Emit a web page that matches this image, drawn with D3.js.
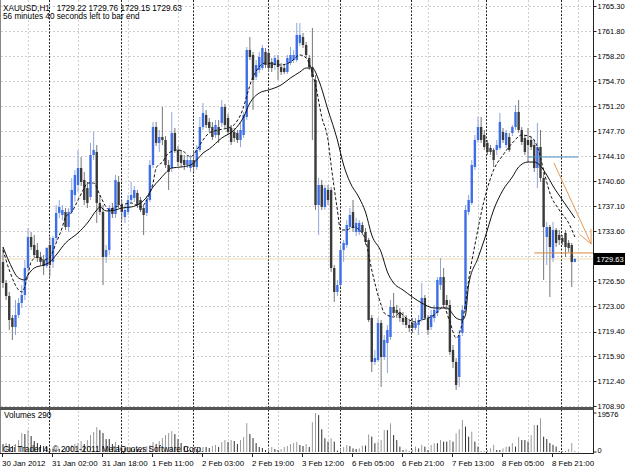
<!DOCTYPE html>
<html><head><meta charset="utf-8">
<script src="https://cdn.jsdelivr.net/npm/d3@7"></script>
<style>body{margin:0;background:#fff;}svg{display:block;font-family:"Liberation Sans",Arial,sans-serif;}</style>
</head><body><svg id="c" width="625" height="469"></svg>
<script>
// ---------- data (XAUUSD H1) ----------
const opens=[1729.21,1726.25,1724.41,1721.31,1720.04,1721.73,1723.43,1724.55,1728.36,1732.73,
1731.60,1730.90,1729.91,1729.49,1728.64,1731.60,1729.21,1732.59,1736.12,1735.83,
1736.26,1734.14,1736.26,1738.65,1740.06,1742.46,1740.77,1739.64,1738.37,1744.29,
1744.72,1737.53,1736.26,1729.91,1730.90,1736.82,1735.98,1740.49,1737.24,1735.55,
1736.26,1737.95,1738.23,1738.94,1737.95,1736.82,1736.12,1737.95,1742.88,1748.24,
1745.99,1746.83,1746.41,1742.88,1742.46,1747.40,1745.00,1744.29,1743.59,1742.88,
1742.46,1743.59,1742.60,1745.00,1748.24,1749.93,1748.95,1748.24,1747.11,1748.24,
1748.81,1751.06,1749.51,1748.10,1747.54,1747.40,1746.41,1747.11,1749.65,1759.10,
1758.39,1755.29,1756.28,1756.56,1758.82,1758.68,1757.41,1756.98,1757.69,1756.70,
1756.56,1756.00,1757.27,1757.69,1757.69,1760.09,1760.93,1759.80,1757.97,1756.70,
1754.87,1737.24,1740.06,1736.96,1739.36,1739.36,1728.36,1724.98,1725.96,1730.90,
1731.60,1734.14,1736.26,1733.44,1733.44,1734.42,1733.44,1732.31,1721.31,1715.11,
1715.39,1720.61,1715.81,1717.79,1718.63,1722.86,1722.44,1722.16,1721.31,1721.31,
1720.32,1720.61,1719.90,1720.32,1721.03,1724.13,1721.31,1720.04,1721.31,1722.02,
1725.96,1727.09,1723.85,1723.14,1716.80,1715.11,1712.99,1719.20,1722.44,1736.26,
1737.53,1742.60,1746.41,1748.24,1747.11,1745.99,1745.28,1745.00,1745.00,1745.28,
1747.54,1745.70,1746.83,1747.40,1748.24,1750.36,1747.82,1746.69,1746.41,1746.41,
1745.70,1742.46,1745.42,1741.05,1732.73,1734.14,1729.77,1733.72,1733.01,1732.59,
1733.30,1731.89,1731.60,1729.22];
const highs=[1731.32,1726.67,1724.98,1721.73,1723.85,1724.13,1725.96,1729.49,1734.00,1733.44,
1733.01,1731.89,1730.62,1730.19,1731.32,1732.73,1732.87,1737.24,1737.95,1737.24,
1736.82,1736.82,1741.05,1742.18,1745.00,1744.01,1741.90,1740.49,1745.99,1747.54,
1745.70,1738.65,1737.24,1731.60,1737.24,1737.53,1741.47,1741.33,1737.95,1737.24,
1738.65,1740.49,1739.92,1739.36,1738.37,1737.24,1738.51,1743.59,1748.95,1748.95,
1747.82,1751.06,1746.97,1743.59,1750.36,1748.10,1745.56,1745.00,1744.29,1744.29,
1744.29,1745.00,1745.70,1749.65,1751.63,1750.64,1749.51,1748.95,1749.23,1749.23,
1752.05,1751.49,1750.08,1748.52,1748.10,1747.82,1748.81,1750.36,1759.52,1760.93,
1758.82,1757.69,1758.82,1759.80,1759.38,1759.10,1757.97,1758.39,1758.39,1757.27,
1757.13,1758.39,1759.52,1759.10,1762.91,1762.91,1761.50,1760.23,1758.39,1762.20,
1755.57,1741.05,1740.77,1740.06,1740.06,1739.78,1728.78,1726.67,1731.60,1732.31,
1735.13,1736.82,1737.95,1735.41,1735.13,1734.85,1734.00,1732.59,1721.73,1716.80,
1721.31,1721.03,1718.91,1720.32,1723.85,1724.84,1723.14,1722.72,1722.16,1721.73,
1721.03,1721.31,1721.31,1721.73,1726.25,1724.55,1721.73,1722.44,1723.14,1727.09,
1729.77,1728.36,1724.55,1723.85,1717.50,1715.67,1719.62,1723.14,1737.24,1738.65,
1743.59,1747.11,1749.65,1749.65,1747.82,1746.41,1745.70,1745.28,1746.41,1750.22,
1748.10,1747.82,1747.40,1748.52,1751.34,1752.05,1748.24,1747.11,1748.10,1746.83,
1746.41,1748.81,1747.82,1741.90,1734.85,1734.42,1734.85,1734.00,1733.72,1733.01,
1733.72,1732.31,1731.89,1729.76];
const lows=[1725.54,1723.85,1719.62,1718.21,1718.91,1721.31,1722.72,1723.85,1727.80,1730.90,
1729.77,1729.21,1728.78,1727.37,1728.36,1727.23,1728.36,1732.03,1735.41,1735.13,
1733.72,1733.44,1735.98,1737.67,1739.08,1739.92,1737.24,1736.82,1737.95,1743.59,
1734.71,1735.83,1725.96,1729.07,1730.19,1735.41,1735.41,1736.82,1735.13,1734.71,
1735.83,1737.53,1737.67,1736.82,1736.26,1733.01,1735.69,1737.67,1742.46,1745.56,
1744.72,1745.70,1742.46,1739.36,1741.90,1744.58,1742.74,1742.60,1742.18,1742.46,
1741.90,1741.90,1742.18,1744.72,1747.82,1748.10,1747.54,1746.41,1746.69,1745.99,
1748.24,1748.10,1747.11,1745.70,1746.13,1745.99,1745.42,1746.69,1749.23,1757.69,
1750.64,1754.87,1755.86,1756.28,1756.56,1756.00,1756.00,1756.28,1754.87,1755.57,
1755.72,1755.72,1756.98,1757.27,1757.41,1759.66,1759.38,1757.97,1756.28,1746.41,
1736.54,1733.01,1736.54,1736.54,1737.24,1727.80,1723.57,1724.41,1725.68,1729.21,
1731.18,1733.86,1733.44,1732.87,1733.01,1733.01,1731.60,1720.75,1713.70,1714.68,
1715.11,1711.58,1715.39,1713.56,1718.21,1721.59,1721.31,1720.75,1720.32,1719.90,
1719.34,1719.20,1719.62,1718.91,1720.75,1721.03,1718.91,1719.62,1720.75,1721.59,
1725.26,1722.72,1722.44,1716.09,1714.26,1711.16,1711.58,1718.77,1722.16,1735.83,
1737.24,1742.18,1745.99,1745.99,1745.00,1744.29,1744.29,1742.60,1744.29,1745.00,
1745.99,1745.28,1744.72,1746.97,1747.82,1747.40,1745.70,1744.29,1743.31,1745.00,
1741.90,1739.64,1740.49,1726.67,1728.78,1724.27,1729.21,1731.32,1731.60,1731.60,
1729.91,1730.62,1725.68,1729.15];
const closes=[1726.25,1724.41,1721.03,1720.04,1721.73,1723.43,1724.55,1728.36,1732.73,1731.32,
1730.19,1729.77,1729.21,1728.64,1731.18,1728.78,1732.59,1736.12,1736.96,1736.54,
1734.14,1736.26,1739.36,1741.47,1742.46,1740.49,1737.95,1737.53,1744.29,1745.00,
1737.53,1736.26,1729.91,1730.90,1736.82,1735.98,1740.77,1737.24,1736.26,1736.54,
1737.95,1738.65,1739.36,1737.24,1736.54,1735.83,1737.95,1742.88,1748.24,1745.99,
1746.83,1746.41,1742.88,1741.90,1747.40,1745.00,1743.31,1743.17,1742.88,1743.59,
1743.59,1742.60,1745.00,1748.24,1750.22,1748.52,1748.10,1746.83,1748.52,1747.11,
1751.06,1748.52,1747.54,1746.13,1746.69,1746.41,1747.82,1749.93,1759.10,1758.11,
1754.87,1756.98,1758.11,1759.38,1756.98,1756.56,1756.56,1757.97,1756.70,1756.00,
1756.00,1757.97,1758.39,1758.39,1761.21,1761.21,1759.80,1758.39,1756.70,1755.29,
1737.24,1740.06,1736.96,1739.64,1737.95,1728.36,1724.98,1725.96,1730.90,1731.89,
1734.42,1735.83,1734.00,1734.71,1734.71,1733.44,1732.03,1721.03,1715.11,1715.67,
1720.61,1715.81,1718.21,1719.62,1722.86,1722.02,1722.02,1721.31,1720.75,1720.32,
1719.90,1719.90,1720.61,1721.03,1724.13,1721.31,1719.62,1721.73,1722.44,1726.67,
1727.09,1723.14,1723.14,1716.52,1715.11,1711.86,1718.91,1722.44,1736.54,1737.95,
1742.88,1746.41,1748.24,1746.41,1745.42,1744.72,1744.72,1743.59,1745.70,1748.95,
1746.41,1747.40,1745.00,1748.24,1750.36,1747.82,1746.13,1744.72,1745.70,1745.42,
1742.46,1745.42,1741.05,1734.14,1734.14,1731.32,1733.72,1731.89,1732.31,1732.03,
1731.32,1731.18,1729.21,1729.63];
const volumes=[4000,4500,4000,3000,4000,6000,9500,9000,11000,8000,
5500,4500,3500,3000,2500,1500,1500,2000,1500,1000,
2000,2500,3500,4000,4500,5500,4000,6000,8500,10000,
12500,11000,9500,6500,6500,4000,5000,3500,2000,2000,
2500,2000,1500,1500,1000,2500,3000,3500,5000,4000,
5500,7000,8500,9500,10500,9000,6500,4500,3000,2500,
1000,1500,1500,2000,2500,2500,2000,3000,3500,2500,
5000,6000,5000,6000,5500,4000,6000,7500,14500,9000,
7000,4500,2500,2000,1000,2000,2500,1500,1000,1500,
2500,3000,4000,4500,5000,3500,3000,4000,2500,15000,
19576,18500,11400,6900,5200,6900,5200,700,1800,2500,
3500,3000,1800,1500,1800,3200,3200,8800,7700,4400,
5200,6000,11000,11000,14400,8500,6000,2700,1000,1300,
300,1300,2700,1800,3600,2700,1000,3600,4400,4400,
6000,5200,5200,6000,5200,9400,11400,16000,12700,7700,
10200,5200,2700,300,300,1000,1800,3600,1000,1000,
1800,2700,2700,4400,2700,7500,6000,6000,5200,8500,
13500,13500,16900,7700,6500,4500,3600,2700,500,300,
300,1500,4500,290];
// moving averages (bar index / price)
const maSlowIdx=[0,2,5,7,8,10,13,15,17,20,24,27,30,31,33,36,38,41,44,46,48,50,52,54,57,60,62,64,66,70,74,77,79,82,85,89,92,95,97,99,101,104,107,109,111,114,116,118,121,123,125,128,131,134,138,142,145,147,148,149,152,154,157,160,163,165,168,170,172,174,176,179,183];
const maSlow=[1731.32,1729.2,1726.95,1726.67,1727.37,1728.36,1728.78,1729.2,1730.19,1731.88,1733.3,1734.7,1736.54,1736.96,1736.4,1736.54,1736.82,1736.96,1737.52,1738.37,1739.78,1740.77,1741.75,1742.46,1742.6,1742.88,1743.59,1744.57,1745.14,1746.69,1747.82,1749.65,1751.62,1753.03,1753.46,1754.16,1755.15,1755.99,1756.56,1756.56,1754.87,1750.64,1746.41,1742.88,1740.48,1738.23,1736.25,1733.0,1730.61,1727.8,1726.24,1725.26,1724.27,1723.42,1722.72,1722.72,1721.31,1721.03,1721.73,1725.96,1729.77,1732.31,1736.54,1739.36,1741.2,1742.6,1743.3,1743.3,1742.74,1741.47,1739.92,1737.95,1735.41];
const maFastIdx=[0,2,5,6,8,9,11,13,15,17,19,20,22,24,26,27,29,31,33,34,36,38,41,44,46,48,49,51,53,56,58,60,62,64,66,69,73,76,80,84,89,92,95,97,99,100,102,104,105,107,108,110,112,114,116,118,121,122,125,127,129,132,134,138,141,143,145,147,148,149,151,154,157,160,163,166,169,171,173,175,178,181,183];
const maFast=[1730.9,1728.08,1725.26,1724.97,1727.37,1729.2,1729.91,1729.49,1729.91,1731.88,1734.14,1735.55,1736.25,1737.95,1739.64,1740.34,1740.34,1738.65,1736.96,1736.54,1736.96,1737.24,1737.52,1736.96,1737.95,1740.34,1742.46,1743.3,1744.57,1745.0,1744.71,1744.0,1745.0,1746.41,1747.4,1747.82,1748.24,1749.93,1755.29,1757.26,1756.98,1757.4,1758.39,1757.97,1755.85,1754.16,1749.65,1746.41,1742.88,1736.54,1733.72,1733.72,1734.14,1733.72,1732.31,1728.08,1723.14,1722.01,1721.45,1722.01,1721.31,1720.74,1721.03,1721.73,1722.86,1720.74,1718.49,1720.74,1723.42,1726.67,1731.6,1737.95,1742.18,1744.29,1745.98,1747.11,1746.83,1745.42,1742.18,1738.93,1736.54,1734.7,1732.73];
// axis ticks and labels
const priceTicks=[1765.30,1761.80,1758.20,1754.70,1751.20,1747.70,1744.10,1740.60,1737.10,1733.60,1730.10,1726.50,1723.00,1719.40,1715.90,1712.40,1708.90];
const timeIdx=[0,16,32,48,64,80,96,112,128,144,160,176];
const timeLabels=["30 Jan 2012","31 Jan 02:00","31 Jan 18:00","1 Feb 11:00","2 Feb 03:00","2 Feb 19:00","3 Feb 12:00","6 Feb 05:00","6 Feb 21:00","7 Feb 13:00","8 Feb 05:00","8 Feb 21:00"];
const gridIdx=[8,24,40,56,72,88,104,120,136,152,168,184];
const daySepIdx=[15,38,61,85,108,131,155,179];
const volTicks=[19576,0];
const lastPrice=1729.63;
// drawn objects
const blueLineIdx=[168,184], blueLinePrice=[1744.01,1744.01];
const orangeLineIdx=[170,188.8], orangeLinePrice=[1730.48,1730.48];
const arrowIdx=[176.3,188.2], arrowPrice=[1743.17,1731.75];

// ---------- drawing ----------
const svg=d3.select("#c");
const FONT=8.2, AXFONT=7.5, TFONT=7.9;
const AXX=593.5;
const x=d3.scaleLinear().domain([0,183]).range([3,574.875]);
const y=d3.scaleLinear().domain([1708.9,1765.3]).range([406,6]);
const yv=d3.scaleLinear().domain([0,19576]).range([452,413]);
const idx=d3.range(closes.length);

svg.append("rect").attr("width",625).attr("height",469).attr("fill","#fff");

// grid
const grid=svg.append("g").attr("stroke","#cfcfcf").attr("stroke-dasharray","2,2").attr("stroke-width",1);
grid.selectAll("line.h").data(priceTicks).join("line")
  .attr("x1",1).attr("x2",AXX).attr("y1",d=>Math.round(y(d))+0.5).attr("y2",d=>Math.round(y(d))+0.5);
grid.selectAll("line.v1").data(gridIdx).join("line")
  .attr("x1",d=>Math.round(x(d))+0.5).attr("x2",d=>Math.round(x(d))+0.5).attr("y1",0).attr("y2",407);
grid.selectAll("line.v2").data(gridIdx).join("line")
  .attr("x1",d=>Math.round(x(d))+0.5).attr("x2",d=>Math.round(x(d))+0.5).attr("y1",411).attr("y2",453);

// day separators
svg.append("g").attr("stroke","#222").attr("stroke-dasharray","2,1.5").attr("stroke-width",1)
  .selectAll("line").data(daySepIdx).join("line")
  .attr("x1",d=>Math.round(x(d))-0.5).attr("x2",d=>Math.round(x(d))-0.5).attr("y1",0).attr("y2",453);

// current price line
svg.append("line").attr("x1",1).attr("x2",AXX).attr("y1",y(lastPrice)).attr("y2",y(lastPrice))
  .attr("stroke","#ecdcae").attr("stroke-width",1);

// volumes
svg.append("g").selectAll("line").data(idx).join("line")
  .attr("x1",i=>x(i)).attr("x2",i=>x(i)).attr("y1",yv(0)).attr("y2",i=>yv(volumes[i]))
  .attr("stroke",i=> (i>0 && volumes[i]>volumes[i-1]) ? "#9a9a9a" : "#2e2e2e").attr("stroke-width",1);

// candles
const bull=i=>closes[i]>=opens[i];
const cg=svg.append("g");
cg.selectAll("line").data(idx).join("line")
  .attr("x1",i=>x(i)).attr("x2",i=>x(i)).attr("y1",i=>y(highs[i])).attr("y2",i=>y(lows[i]))
  .attr("stroke",i=>bull(i)?"#8fa6dc":"#777").attr("stroke-width",1);
cg.selectAll("rect").data(idx).join("rect")
  .attr("x",i=>x(i)-1.2).attr("width",2.4)
  .attr("y",i=>y(Math.max(opens[i],closes[i])))
  .attr("height",i=>Math.max(1,Math.abs(y(opens[i])-y(closes[i]))))
  .attr("fill",i=>bull(i)?"#3e6ee6":"#3a3a3a");

// moving averages
const line=d3.line().x(d=>x(d[0])).y(d=>y(d[1])).curve(d3.curveMonotoneX);
svg.append("path").attr("d",line(maSlowIdx.map((d,k)=>[d,maSlow[k]])))
  .attr("fill","none").attr("stroke","#111").attr("stroke-width",1);
svg.append("path").attr("d",line(maFastIdx.map((d,k)=>[d,maFast[k]])))
  .attr("fill","none").attr("stroke","#111").attr("stroke-width",1).attr("stroke-dasharray","3,2");

// objects
svg.append("line").attr("x1",x(blueLineIdx[0])).attr("x2",x(blueLineIdx[1]))
  .attr("y1",y(blueLinePrice[0])).attr("y2",y(blueLinePrice[1])).attr("stroke","#4a8fc4").attr("stroke-width",1);
svg.append("line").attr("x1",x(orangeLineIdx[0])).attr("x2",Math.min(AXX,x(orangeLineIdx[1])))
  .attr("y1",y(orangeLinePrice[0])).attr("y2",y(orangeLinePrice[1])).attr("stroke","#d9883e").attr("stroke-width",1);
const ax0=x(arrowIdx[0]), ay0=y(arrowPrice[0]), ax1=x(arrowIdx[1]), ay1=y(arrowPrice[1]);
svg.append("line").attr("x1",ax0).attr("y1",ay0).attr("x2",ax1).attr("y2",ay1).attr("stroke","#e39a55").attr("stroke-width",1);
const ang=Math.atan2(ay0-ay1,ax0-ax1);
[-0.45,0.42].forEach(da=>{
  svg.append("line").attr("x1",ax1).attr("y1",ay1)
    .attr("x2",ax1+15*Math.cos(ang+da)).attr("y2",ay1+15*Math.sin(ang+da))
    .attr("stroke","#e39a55").attr("stroke-width",1);
});

// frames
svg.append("line").attr("x1",0.5).attr("x2",0.5).attr("y1",0).attr("y2",454).attr("stroke","#888");
svg.append("line").attr("x1",AXX).attr("x2",AXX).attr("y1",0).attr("y2",454).attr("stroke","#222");
svg.append("rect").attr("x",0).attr("y",407).attr("width",AXX).attr("height",3).attr("fill","#555");
svg.append("line").attr("x1",0).attr("x2",AXX).attr("y1",453.5).attr("y2",453.5).attr("stroke","#222");

// price axis (labels hidden where the current-price box sits, as in the terminal)
const pa=svg.append("g").attr("font-size",AXFONT).attr("fill","#000");
pa.selectAll("line").data(priceTicks).join("line")
  .attr("x1",AXX).attr("x2",AXX+3).attr("y1",d=>Math.round(y(d))+0.5).attr("y2",d=>Math.round(y(d))+0.5).attr("stroke","#222");
pa.selectAll("text").data(priceTicks.filter(d=>Math.abs(y(d)-y(lastPrice))>10)).join("text")
  .attr("x",597.5).attr("y",d=>y(d)+2.8).text(d=>d.toFixed(2));
svg.append("rect").attr("x",AXX+0.5).attr("y",y(lastPrice)-6).attr("width",32).attr("height",12).attr("fill","#000");
svg.append("text").attr("x",596.5).attr("y",y(lastPrice)+2.8).attr("font-size",AXFONT).attr("fill","#fff").text(lastPrice.toFixed(2));

// volume axis
const va=svg.append("g").attr("font-size",AXFONT);
va.selectAll("text").data(volTicks).join("text").attr("x",597.5).attr("y",d=>yv(d)+(d===0?1:4)).text(d=>d);
va.selectAll("line").data(volTicks).join("line").attr("x1",AXX).attr("x2",AXX+3)
  .attr("y1",d=>yv(d)).attr("y2",d=>yv(d)).attr("stroke","#222");

// time axis
const ta=svg.append("g").attr("font-size",TFONT);
ta.selectAll("text").data(timeIdx).join("text").attr("x",d=>x(d)-1).attr("y",466).text((d,k)=>timeLabels[k]);
ta.selectAll("line").data(timeIdx).join("line").attr("x1",d=>Math.round(x(d))-0.5).attr("x2",d=>Math.round(x(d))-0.5)
  .attr("y1",454).attr("y2",457).attr("stroke","#222");

// texts
svg.append("text").attr("x",3).attr("y",10.5).attr("font-size",FONT).style("white-space","pre")
  .text("XAUUSD,H1   "+[opens[183],highs[183],lows[183],closes[183]].map(v=>v.toFixed(2)).join(" "));
svg.append("text").attr("x",3).attr("y",18.8).attr("font-size",FONT).text("56 minutes 40 seconds left to bar end");
svg.append("text").attr("x",4).attr("y",418).attr("font-size",FONT).text("Volumes "+volumes[183]);
svg.append("text").attr("x",3).attr("y",452).attr("font-size",FONT).text("Gci Trader 4, © 2001-2011 MetaQuotes Software Corp.");
</script>
</body></html>
